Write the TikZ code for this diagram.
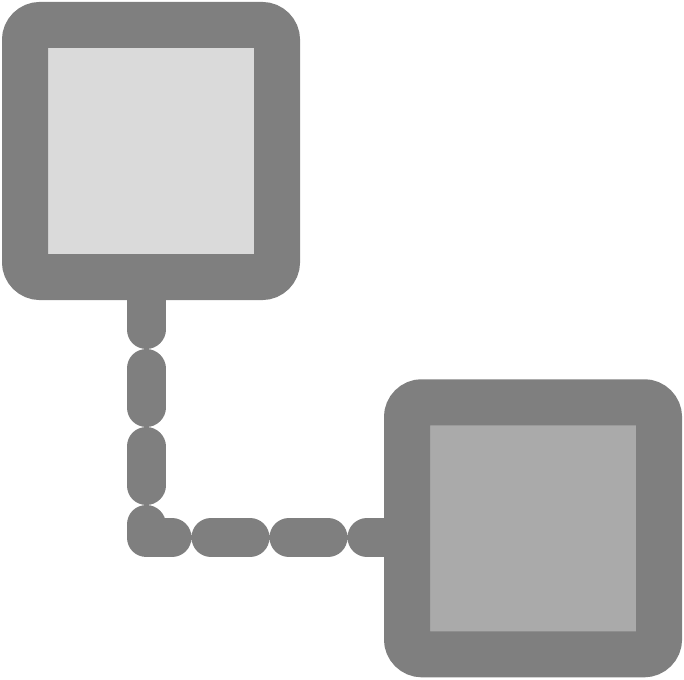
\documentclass[tikz,border=0pt]{standalone}
\usepackage{tikz}
\usetikzlibrary{backgrounds}
\definecolor{framegray}{HTML}{7F7F7F}
\definecolor{lightpane}{HTML}{DADADA}
\definecolor{darkpane}{HTML}{AAAAAA}
\begin{document}
\begin{tikzpicture}[x=1pt, y=-1pt,
  pane/.style={draw=framegray, line width=46pt, rounded corners=15pt, rectangle,
    minimum width=252pt, minimum height=252pt, inner sep=0pt, outer sep=0pt},
  link/.style={draw=framegray, line width=39pt, line cap=round, line join=round,
    dash pattern=on 39pt off 39pt, dash phase=64.5pt}]
\useasboundingbox (0, 0) rectangle (684, 679);
\node[pane, fill=lightpane] (top) at (151, 151) {};
\node[pane, fill=darkpane] (bottom) at (533, 528.25) {};
\coordinate (bend) at (146, 537.5);
\begin{scope}[on background layer]
\draw[link] (top.south -| bend) -- (bend) -- (bend -| bottom.west);
\end{scope}
\end{tikzpicture}
\end{document}
